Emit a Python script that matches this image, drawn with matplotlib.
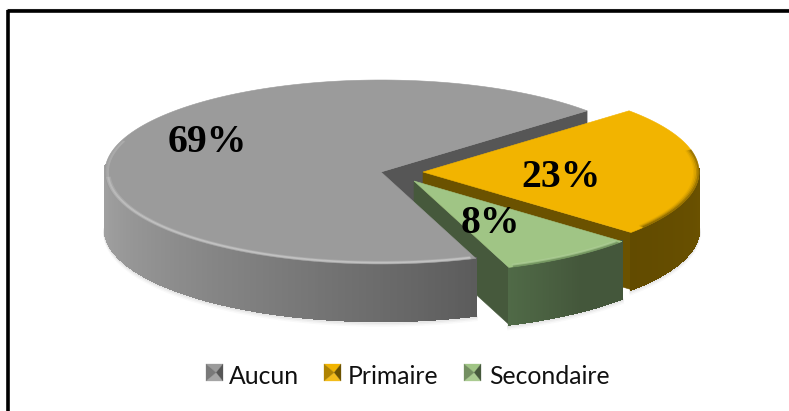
import numpy as np
import matplotlib
matplotlib.use("Agg")
import matplotlib.pyplot as plt
from matplotlib.collections import PolyCollection
from matplotlib.patches import Polygon

# ---- data ----
categories = ["Aucun", "Primaire", "Secondaire"]
values = [69, 23, 8]
value_labels = ["69%", "23%", "8%"]

# ---- styles ----
top_cols = ["#9b9b9b", "#f2b400", "#a0c585"]
cut_cols = ["#565656", "#6b5200", "#46593c"]
side_light = ["#a0a0a0", "#6a5100", "#506a47"]
side_dark = ["#5c5c5c", "#624b00", "#44573b"]
centers = [(381, 172), (423, 172), (414, 181)]
A, B, H = 276, 92, 57
START = 41.7  # angle of the first slice boundary

fig = plt.figure(figsize=(7.89, 4.11), dpi=100)
ax = fig.add_axes([0, 0, 1, 1])
ax.set_xlim(0, 789)
ax.set_ylim(411, 0)
ax.axis("off")


def hexrgb(c):
    return np.array(matplotlib.colors.to_rgb(c))


def ell(c, t, dy=0, shrink=0):
    r = np.radians(t)
    return np.column_stack([c[0] + (A - shrink) * np.cos(r),
                            c[1] + (B - shrink / 2) * -np.sin(r) + dy])


total = sum(values)
sweeps = [v / total * 360 for v in values]
ang = {
    0: (START, START + sweeps[0]),
    1: (START - sweeps[1], START),
    2: (START - sweeps[1] - sweeps[2], START - sweeps[1]),
}


def draw_shadow(i, t0, t1):
    ts = np.linspace(t0, t1, 120)
    for k, al in zip([4, 2.5, 1], [0.04, 0.06, 0.09]):
        p = ell(centers[i], ts, H + k)
        ax.plot(p[:, 0], p[:, 1], color="#666666", alpha=al, lw=2.5, zorder=2)


def draw_side(i, t0, t1, z, col_fn):
    ts = np.linspace(t0, t1, 160)
    polys, cols = [], []
    for a, b in zip(ts[:-1], ts[1:]):
        p = ell(centers[i], np.array([a, b]))
        polys.append([p[0], p[1], p[1] + [0, H], p[0] + [0, H]])
        cols.append(col_fn((a + b) / 2))
    ax.add_collection(PolyCollection(polys, facecolors=cols, edgecolors=cols,
                                     linewidths=1.2, antialiaseds=False, zorder=z))


def draw_top(i, t0, t1, z):
    ts = np.linspace(t0, t1, 300)
    pts = np.vstack([[centers[i]], ell(centers[i], ts)])
    ax.add_patch(Polygon(pts, closed=True, fc=top_cols[i], ec=top_cols[i], lw=0.4, zorder=z))


def rim_strokes(i, t0, t1, z, color, shrinks, alphas, lw=1.3):
    ts = np.linspace(t0, t1, 200)
    for sh, al in zip(shrinks, alphas):
        p = ell(centers[i], ts, 0, sh)
        ax.plot(p[:, 0], p[:, 1], color=color, lw=lw, alpha=al, zorder=z, solid_capstyle="butt")


def draw_cut(i, t, z):
    c = centers[i]
    e = ell(c, np.array([t]))[0]
    ax.add_patch(Polygon([c, e, e + [0, H], np.array(c) + [0, H]], closed=True,
                         fc=cut_cols[i], ec=cut_cols[i], lw=0.4, zorder=z))


# grey: back cut face first
g0, g1 = ang[0]
draw_cut(0, g0, 3)

# yellow
y0, y1 = ang[1]
draw_shadow(1, y0, 0)
draw_cut(1, y0, 4)
dy_ = hexrgb(side_dark[1])
ly_ = hexrgb(side_light[1])
draw_side(1, y0, 2, 5, lambda t: tuple(dy_ + (ly_ - dy_) * np.clip((t - y0) / 40, 0, 1)))
draw_top(1, y0, y1, 6)
rim_strokes(1, y0 + 4, 14, 7, "#6b5200", [0.5, 2, 3.5, 5], [0.6, 0.35, 0.18, 0.08])

# green
s0, s1 = ang[2]
draw_shadow(2, s0, s1)
draw_cut(2, s0, 8)
ls, ds = hexrgb(side_light[2]), hexrgb(side_dark[2])
draw_side(2, s0, s1, 9,
          lambda t: tuple(ds + (ls - ds) * (1 - np.clip((t - s0) / ((s1 - s0) * 0.6), 0, 1))))
draw_top(2, s0, s1, 10)
rim_strokes(2, s0 + 1, s1 - 1, 11, "#5f7f50", [0.5, 2.5], [0.55, 0.25])
rim_strokes(2, s0 + 1, s1 - 1, 11, "#d3e6c4", [4.5], [0.2])

# grey wall and top come last: the top hides the inner faces of its neighbours
draw_shadow(0, 180, g1)
lg, dg = hexrgb(side_light[0]), hexrgb(side_dark[0])
draw_side(0, 176, g1, 12, lambda t: tuple(lg + (dg - lg) * np.clip((t - 185) / (g1 - 185), 0, 1) ** 1.2))
draw_top(0, g0, g1, 13)
rim_strokes(0, 183, g1 - 1, 14, "#dcdcdc", [1.5, 3, 4.5], [0.3, 0.45, 0.2], lw=1.2)
rim_strokes(0, 160, 183, 14, "#cccccc", [1.5, 3], [0.2, 0.3], lw=1.2)

# percentage labels
lab_pos = [(207, 142), (561, 177), (490, 223)]
for lab, (x, y) in zip(value_labels, lab_pos):
    ax.text(x, y, lab, family="Liberation Serif", weight="bold", fontsize=28.5,
            ha="center", va="center", color="black", zorder=20)

# legend with bevelled keys
leg_key_x = [206, 324, 464]
leg_text_x = [229, 348, 489]
KEY = 17
KY = 364
for i, (name, kx, tx) in enumerate(zip(categories, leg_key_x, leg_text_x)):
    lt = hexrgb(top_cols[i])
    dk = hexrgb(cut_cols[i])
    x0, x1, y0_, y1_ = kx, kx + KEY, KY, KY + KEY
    m = (kx + KEY * 0.6, KY + KEY / 2)
    tris = [([(x0, y0_), (x1, y0_), m], lt),
            ([(x0, y1_), (x1, y1_), m], lt * 0.9 + 0.1),
            ([(x0, y0_), (x0, y1_), m], (lt + dk) / 2),
            ([(x1, y0_), (x1, y1_), m], dk)]
    for pts, col in tris:
        ax.add_patch(Polygon(pts, closed=True, fc=col, ec=col, lw=0.2, zorder=20))
    ax.text(tx, 376, name, family="Lato", fontsize=17.8, ha="left", va="center", color="#111111", zorder=20)

# frame: only the top and left rules are present
ax.plot([8.5, 789], [11, 11], color="black", lw=2.6, solid_capstyle="butt", zorder=30)
ax.plot([8.5, 8.5], [9.7, 411], color="black", lw=2.6, solid_capstyle="butt", zorder=30)
ax.plot([7, 789], [9.2, 9.2], color="#999999", lw=0.8, zorder=29)
ax.plot([6.8, 6.8], [9.2, 411], color="#999999", lw=0.8, zorder=29)

fig.savefig("out.png", dpi=100, facecolor="white")
